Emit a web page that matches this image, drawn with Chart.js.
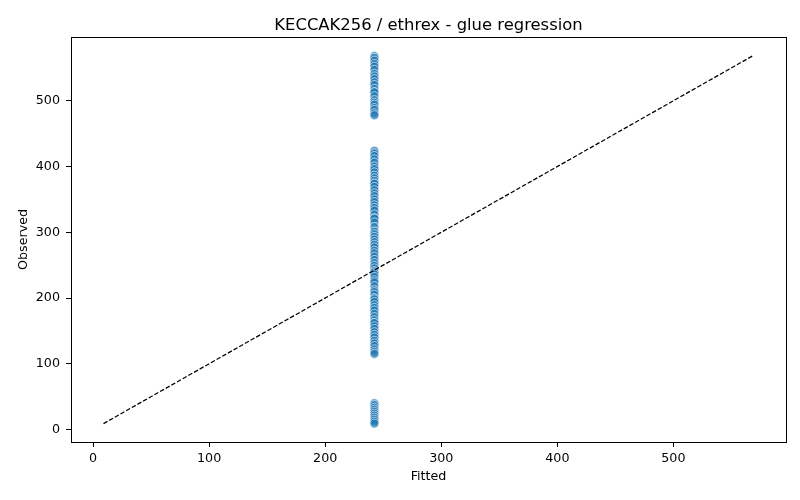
<!DOCTYPE html>
<html>
<head>
<meta charset="utf-8">
<script src="https://cdn.jsdelivr.net/npm/chart.js@4.4.0/dist/chart.umd.min.js"></script>
<style>
  html, body { margin: 0; padding: 0; background: #fff; }
  #wrap { width: 800px; height: 500px; position: relative; }
</style>
</head>
<body>
<div id="wrap"><canvas id="c" width="800" height="500"></canvas></div>
<script>
const chartTitle = "KECCAK256 / ethrex - glue regression";
const xLabel = "Fitted";
const yLabel = "Observed";
const fittedValue = 242.4;
const observedValues = [
  568, 565, 561, 556, 552, 547, 541, 537, 533, 528, 524, 518, 513, 513, 507, 501, 497, 494, 489, 486, 481, 478,
  424, 420, 416, 411, 406, 400, 396, 391, 386, 382, 378, 374, 374, 369, 364, 359, 355, 350, 346, 341, 337, 333,
  327, 321, 321, 315, 308, 301, 297, 293, 289, 285, 281, 277, 272, 268, 263, 258, 253, 249, 245, 241, 239, 236,
  232, 227, 224, 218, 212, 209, 205, 200, 198, 194, 189, 185, 181, 176, 171, 166, 162, 162, 157, 153, 148, 144,
  140, 135, 131, 127, 122, 118, 115,
  40, 37, 33, 30, 27, 24, 21, 18, 15, 12, 9
];
const refLine = [9, 568];
const xTicks = [0, 100, 200, 300, 400, 500];
const yTicks = [0, 100, 200, 300, 400, 500];
const axisMin = -19;
const axisMax = 597;

const scatterData = observedValues.map(v => ({ x: fittedValue, y: v }));
const lineData = refLine.map(v => ({ x: v, y: v }));

const frameAndTitle = {
  id: 'frameAndTitle',
  afterDraw(chart) {
    const { ctx, chartArea: a } = chart;
    ctx.save();
    ctx.strokeStyle = '#000';
    ctx.lineWidth = 1;
    ctx.strokeRect(Math.round(a.left) + 0.5, Math.round(a.top) + 0.5, Math.round(a.right - a.left), Math.round(a.bottom - a.top));
    ctx.fillStyle = '#000';
    ctx.font = '16.4px "DejaVu Sans"';
    ctx.textAlign = 'center';
    ctx.textBaseline = 'alphabetic';
    ctx.fillText(chartTitle, (a.left + a.right) / 2, 30);
    ctx.restore();
  }
};

new Chart(document.getElementById('c'), {
  type: 'scatter',
  data: {
    datasets: [
      {
        label: 'points',
        data: scatterData,
        backgroundColor: 'rgba(31,119,180,0.68)',
        borderColor: 'rgba(255,255,255,0.75)',
        borderWidth: 0.8,
        pointRadius: 4.5,
        pointHoverRadius: 4.5,
        order: 2
      },
      {
        type: 'line',
        label: 'ref',
        data: lineData,
        borderColor: '#000',
        borderWidth: 1.25,
        borderDash: [4.5, 2],
        pointRadius: 0,
        fill: false,
        order: 1
      }
    ]
  },
  options: {
    responsive: false,
    animation: false,
    devicePixelRatio: 1,
    layout: { padding: { top: 37, right: 14, bottom: 0, left: 0 } },
    plugins: {
      legend: { display: false },
      tooltip: { enabled: false },
      title: { display: false }
    },
    scales: {
      x: {
        type: 'linear',
        min: axisMin,
        max: axisMax,
        afterBuildTicks: s => { s.ticks = xTicks.map(v => ({ value: v })); },
        afterFit: s => { s.height = 58; },
        grid: { display: true, drawOnChartArea: false, drawTicks: true, tickLength: 5, color: '#000', lineWidth: 1 },
        border: { display: true, color: '#000', width: 1 },
        ticks: { color: '#000', font: { family: 'DejaVu Sans', size: 12.7 }, padding: 4, maxRotation: 0 },
        title: { display: true, text: xLabel, color: '#000', font: { family: 'DejaVu Sans', size: 12.7 }, padding: { top: 0, bottom: 15.5 } }
      },
      y: {
        type: 'linear',
        min: axisMin,
        max: axisMax,
        afterBuildTicks: s => { s.ticks = yTicks.map(v => ({ value: v })); },
        afterFit: s => { s.width = 71; },
        grid: { display: true, drawOnChartArea: false, drawTicks: true, tickLength: 5, color: '#000', lineWidth: 1 },
        border: { display: true, color: '#000', width: 1 },
        ticks: { color: '#000', font: { family: 'DejaVu Sans', size: 12.7 }, padding: 6 },
        title: { display: true, text: yLabel, color: '#000', font: { family: 'DejaVu Sans', size: 12.7 }, padding: { top: 16, bottom: 0 } }
      }
    }
  },
  plugins: [frameAndTitle]
});
</script>
</body>
</html>
